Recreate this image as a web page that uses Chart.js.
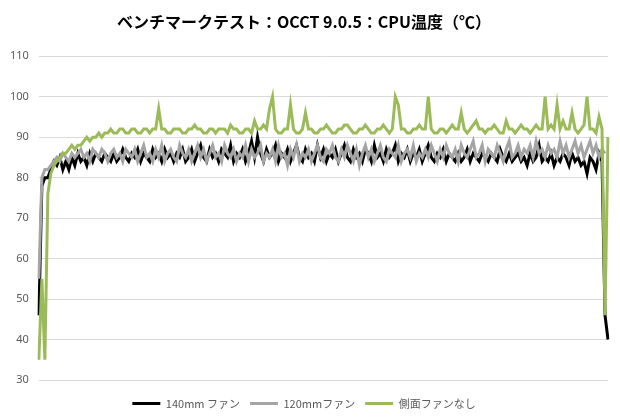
<!DOCTYPE html>
<html>
<head>
<meta charset="utf-8">
<script src="https://cdn.jsdelivr.net/npm/chart.js@4.4.1/dist/chart.umd.min.js"></script>
<style>
    html, body { margin: 0; padding: 0; background: #ffffff; }
    #chart-box { width: 620px; height: 420px; }
</style>
</head>
<body>
<div id="chart-box"><canvas id="temp-chart" width="620" height="420"></canvas></div>
<script>
// ベンチマークのデータ（CPU温度 ℃）
const seriesNames = ["140mm ファン", "120mmファン", "側面ファンなし"];

const fan140 = [
    46, 78, 80, 80, 82, 84, 83, 85, 82, 84,
    82, 85, 83, 86, 84, 85, 83, 86, 84, 86,
    85, 84, 86, 85, 84, 86, 84, 85, 87, 85,
    84, 86, 85, 87, 84, 86, 85, 84, 87, 85,
    86, 84, 87, 85, 86, 84, 86, 85, 87, 84,
    85, 87, 84, 86, 88, 85, 84, 87, 85, 86,
    84, 87, 86, 85, 88, 84, 86, 85, 87, 84,
    86, 89, 85, 90, 86, 84, 87, 85, 86, 88,
    84, 86, 85, 87, 84, 86, 88, 85, 84, 87,
    85, 86, 84, 88, 85, 87, 84, 86, 85, 87,
    84, 86, 88, 85, 84, 87, 85, 86, 84, 87,
    86, 84, 88, 85, 86, 84, 87, 85, 86, 88,
    84, 86, 85, 87, 84, 86, 85, 87, 84, 86,
    88, 85, 84, 86, 85, 87, 84, 86, 85, 84,
    86, 84, 85, 87, 84, 86, 85, 84, 86, 85,
    84, 86, 85, 84, 87, 85, 84, 86, 84, 85,
    86, 84, 85, 83, 86, 84, 85, 88, 84, 85,
    84, 86, 83, 85, 84, 86, 85, 83, 86, 84,
    85, 83, 84, 81, 85, 84, 82, 86, 84, 46,
    40
];

const fan120 = [
    55, 80, 82, 82, 83, 84, 85, 84, 86, 85,
    84, 86, 85, 86, 87, 85, 86, 84, 87, 86,
    85, 87, 86, 84, 86, 87, 85, 86, 84, 87,
    86, 85, 87, 84, 86, 88, 85, 86, 84, 87,
    85, 88, 84, 86, 87, 85, 84, 88, 86, 85,
    87, 84, 86, 88, 85, 87, 84, 86, 88, 85,
    86, 84, 88, 86, 85, 87, 84, 86, 85, 88,
    84, 87, 85, 86, 88, 84, 86, 85, 87, 84,
    88, 85, 86, 83, 87, 85, 88, 84, 86, 85,
    87, 84, 86, 88, 85, 84, 87, 86, 88, 85,
    84, 87, 85, 88, 86, 84, 87, 83, 86, 88,
    85, 87, 84, 86, 88, 85, 84, 87, 86, 85,
    88, 84, 86, 87, 85, 88, 84, 86, 85, 87,
    85, 88, 86, 84, 87, 85, 88, 86, 85, 87,
    84, 88, 86, 85, 87, 89, 85, 86, 88, 84,
    87, 86, 85, 88, 86, 84, 87, 89, 85, 86,
    88, 85, 87, 86, 88, 85, 89, 86, 87, 85,
    88, 86, 87, 85, 89, 86, 88, 85, 87, 89,
    86, 88, 85, 87, 89, 86, 88, 85, 87, 86,
    null
];

const noSideFan = [
    35, 55, 35, 76, 81, 83, 84, 85, 86, 86,
    87, 88, 87, 88, 88, 89, 90, 89, 90, 90,
    91, 90, 91, 91, 92, 91, 91, 92, 92, 91,
    91, 92, 92, 91, 91, 92, 92, 91, 92, 92,
    97, 92, 92, 91, 91, 92, 92, 92, 91, 91,
    92, 92, 93, 92, 92, 91, 91, 92, 92, 91,
    92, 92, 92, 91, 93, 92, 92, 91, 91, 92,
    92, 91, 94, 92, 92, 93, 92, 97, 100, 92,
    91, 91, 92, 92, 98, 92, 91, 91, 92, 96,
    92, 92, 91, 91, 92, 92, 93, 92, 91, 91,
    92, 92, 93, 93, 92, 91, 91, 92, 92, 93,
    92, 91, 91, 92, 92, 93, 92, 91, 92, 100,
    98, 92, 92, 91, 91, 92, 92, 93, 92, 92,
    100, 92, 91, 91, 92, 92, 91, 92, 93, 92,
    92, 96, 92, 91, 92, 93, 94, 92, 92, 91,
    92, 92, 93, 92, 91, 91, 94, 92, 92, 91,
    92, 93, 92, 92, 91, 92, 93, 92, 92, 100,
    92, 93, 92, 98, 92, 94, 92, 92, 96, 92,
    91, 92, 93, 100, 92, 92, 91, 95, 92, 46,
    90
];

// 横軸は経過時間（ラベルは非表示）
const timeLabels = noSideFan.map((v, i) => i);

const yMin = 30;
const yMax = 110;
const yStep = 10;

const colors = ["#000000", "#a5a5a5", "#9bbb59"];

function makeDataset(name, values, color, order) {
    return {
        label: name,
        data: values,
        borderColor: color,
        backgroundColor: color,
        borderWidth: 3,
        pointRadius: 0,
        tension: 0,
        fill: false,
        order: order
    };
}

const ctx = document.getElementById("temp-chart").getContext("2d");
new Chart(ctx, {
    type: "line",
    data: {
        labels: timeLabels,
        datasets: [
            makeDataset(seriesNames[0], fan140, colors[0], 3),
            makeDataset(seriesNames[1], fan120, colors[1], 2),
            makeDataset(seriesNames[2], noSideFan, colors[2], 1)
        ]
    },
    options: {
        responsive: false,
        animation: false,
        layout: {
            padding: { left: 0, right: 12, top: 4, bottom: 1 }
        },
        plugins: {
            title: {
                display: true,
                text: "ベンチマークテスト：OCCT 9.0.5：CPU温度（℃）",
                color: "#000000",
                font: { family: "'Noto Sans CJK JP'", size: 16, weight: "bold" },
                padding: { top: 8, bottom: 25 }
            },
            legend: {
                position: "bottom",
                labels: {
                    boxWidth: 28,
                    boxHeight: 3,
                    padding: 10,
                    color: "#595959",
                    font: { family: "'Noto Sans CJK JP'", size: 11 },
                    sort: (a, b) => a.datasetIndex - b.datasetIndex,
                    generateLabels: (chart) => {
                        const items = Chart.defaults.plugins.legend.labels.generateLabels(chart);
                        items.forEach(item => {
                            item.lineWidth = 0;
                            item.fillStyle = item.strokeStyle;
                        });
                        return items;
                    }
                }
            },
            tooltip: { enabled: false }
        },
        scales: {
            x: {
                ticks: { display: false },
                grid: { display: false },
                border: { display: false }
            },
            y: {
                min: yMin,
                max: yMax,
                ticks: {
                    stepSize: yStep,
                    padding: 10,
                    color: "#595959",
                    font: { family: "'Noto Sans'", size: 11 }
                },
                grid: { color: "#d9d9d9", drawTicks: false },
                border: { display: false }
            }
        }
    }
});
</script>
</body>
</html>
